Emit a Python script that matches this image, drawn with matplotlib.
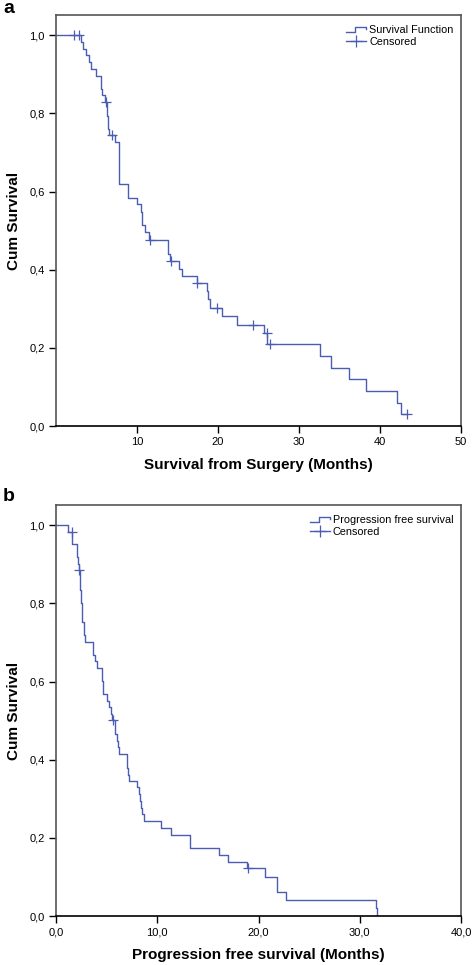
import numpy as np
import matplotlib
matplotlib.use("Agg")
import matplotlib.pyplot as plt
from matplotlib.legend_handler import HandlerBase
from matplotlib.lines import Line2D

plt.rcParams['font.family'] = ['Liberation Sans', 'DejaVu Sans']

# ---------------- Data ----------------
# Panel a: overall survival from surgery (months)
os_times = [3.07, 3.35, 3.65, 4.10, 4.26, 4.92, 5.50, 5.60, 5.74, 6.03,
            6.28, 6.34, 6.40, 6.45, 6.52, 7.31, 7.80, 8.83, 10.03, 10.44,
            10.60, 10.98, 11.43, 13.78, 14.07, 15.14, 15.55, 17.36, 18.60, 18.75,
            19.00, 20.45, 22.30, 25.70, 26.10, 32.60, 33.90, 36.20, 38.25, 42.10,
            42.60]
os_surv = [0.983, 0.966, 0.949, 0.932, 0.915, 0.897, 0.880, 0.863, 0.846, 0.829,
           0.811, 0.794, 0.777, 0.760, 0.744, 0.726, 0.620, 0.584, 0.567, 0.547,
           0.515, 0.496, 0.477, 0.440, 0.423, 0.402, 0.383, 0.365, 0.346, 0.325,
           0.303, 0.282, 0.259, 0.237, 0.209, 0.179, 0.149, 0.120, 0.090, 0.060,
           0.030]
os_censored = [2.2, 2.86, 6.2, 6.9, 11.6, 14.15, 17.45, 19.9, 24.36, 26.0, 26.4, 43.3]

# Panel b: progression free survival (months)
pfs_times = [1.20, 1.62, 2.04, 2.12, 2.20, 2.24, 2.33, 2.37, 2.41, 2.45,
             2.49, 2.52, 2.55, 2.58, 2.72, 2.80, 2.88, 3.62, 3.88, 4.08,
             4.56, 4.60, 4.63, 5.07, 5.26, 5.45, 5.55, 5.78, 5.83, 6.00,
             6.10, 6.20, 6.98, 7.02, 7.15, 7.22, 8.03, 8.15, 8.25, 8.35,
             8.50, 8.69, 10.37, 11.33, 13.20, 13.25, 16.10, 17.00, 18.83, 20.64,
             21.80, 21.85, 22.72, 31.57, 31.73]
pfs_surv = [0.984, 0.951, 0.934, 0.918, 0.901, 0.885, 0.868, 0.852, 0.835, 0.819,
            0.802, 0.786, 0.769, 0.753, 0.736, 0.719, 0.702, 0.669, 0.652, 0.635,
            0.602, 0.585, 0.568, 0.551, 0.534, 0.518, 0.501, 0.484, 0.466, 0.449,
            0.432, 0.415, 0.397, 0.379, 0.362, 0.346, 0.329, 0.312, 0.294, 0.277,
            0.260, 0.242, 0.225, 0.208, 0.190, 0.173, 0.156, 0.139, 0.122, 0.101,
            0.081, 0.061, 0.041, 0.020, 0.000]
pfs_censored = [1.58, 2.27, 5.66, 19.0]

panel_letters = ['a', 'b']
xlabels = ['Survival from Surgery (Months)', 'Progression free survival (Months)']
legend_labels = [['Survival Function', 'Censored'],
                 ['Progression free survival', 'Censored']]
yticks = [0.0, 0.2, 0.4, 0.6, 0.8, 1.0]
ytick_labels = ['0,0', '0,2', '0,4', '0,6', '0,8', '1,0']
xticks_a = [10, 20, 30, 40, 50]
xtick_labels_a = ['10', '20', '30', '40', '50']
xticks_b = [0, 10, 20, 30, 40]
xtick_labels_b = ['0,0', '10,0', '20,0', '30,0', '40,0']

BLUE = '#4a5db3'
GRAY = '#555555'


class StepHandler(HandlerBase):
    def create_artists(self, legend, orig_handle, xdescent, ydescent,
                       width, height, fontsize, trans):
        x0 = -xdescent
        y0 = -ydescent + height * 0.1
        y1 = -ydescent + height * 0.8
        xs = [x0, x0 + width * 0.45, x0 + width * 0.45, x0 + width, x0 + width]
        ys = [y0, y0, y1, y1, y1 - (y1 - y0) * 0.45]
        ln = Line2D(xs, ys, color=BLUE, lw=1.0, transform=trans)
        return [ln]


class StepKey:
    pass


def draw_panel(ax, times, surv, censored, end, xticks, xtlabels, xlim, xlabel, labels):
    xs = np.r_[0.0, np.asarray(times), end]
    ys = np.r_[1.0, np.asarray(surv), surv[-1]]
    ax.step(xs, ys, where='post', color=BLUE, lw=1.0)
    # censored marks on the curve
    cen = np.asarray(censored)
    idx = np.searchsorted(np.asarray(times), cen, side='right') - 1
    cy = np.where(idx >= 0, np.asarray(surv)[np.clip(idx, 0, None)], 1.0)
    ax.plot(cen, cy, ls='none', marker='+', ms=7, mew=0.9, color=BLUE)

    ax.set_xlim(*xlim)
    ax.set_ylim(0, 1.052)
    ax.set_yticks(yticks)
    ax.set_yticklabels(ytick_labels)
    ax.set_xticks(xticks)
    ax.set_xticklabels(xtlabels)
    ax.tick_params(direction='out', length=5, width=1, labelsize=8, colors='black', pad=3)
    for s in ['top', 'right']:
        ax.spines[s].set_color(GRAY)
        ax.spines[s].set_linewidth(1.2)
    ax.spines['left'].set_color(GRAY)
    ax.spines['left'].set_linewidth(1.2)
    ax.spines['bottom'].set_color('black')
    ax.spines['bottom'].set_linewidth(1.2)
    ax.set_xlabel(xlabel, fontsize=11, fontweight='bold', labelpad=8)
    ax.set_ylabel('Cum Survival', fontsize=11, fontweight='bold', labelpad=6)

    cens_handle = Line2D([], [], color=BLUE, lw=1.0, marker='+', ms=9, mew=0.9)
    ax.legend([StepKey(), cens_handle], labels,
              handler_map={StepKey: StepHandler()},
              loc='upper right', bbox_to_anchor=(1.0, 0.995),
              frameon=False, fontsize=7.8, handlelength=1.9,
              handletextpad=0.25, labelspacing=0.2, borderaxespad=0.3,
              numpoints=1)


fig = plt.figure(figsize=(4.72, 9.65), dpi=100)
ax1 = fig.add_axes([56 / 472, 1 - 426 / 965, (461 - 56) / 472, (426 - 15) / 965])
ax2 = fig.add_axes([56 / 472, 1 - 916 / 965, (461 - 56) / 472, (916 - 505) / 965])

draw_panel(ax1, os_times, os_surv, os_censored, os_censored[-1], xticks_a, xtick_labels_a,
           (0, 50), xlabels[0], legend_labels[0])
draw_panel(ax2, pfs_times, pfs_surv, pfs_censored, pfs_times[-1], xticks_b, xtick_labels_b,
           (0, 40), xlabels[1], legend_labels[1])

fig.text(3 / 472, 1 - 13 / 965, panel_letters[0], fontsize=14, fontweight='bold',
         ha='left', va='baseline')
fig.text(3 / 472, 1 - 501 / 965, panel_letters[1], fontsize=14, fontweight='bold',
         ha='left', va='baseline')

fig.savefig('out.png', dpi=100)
